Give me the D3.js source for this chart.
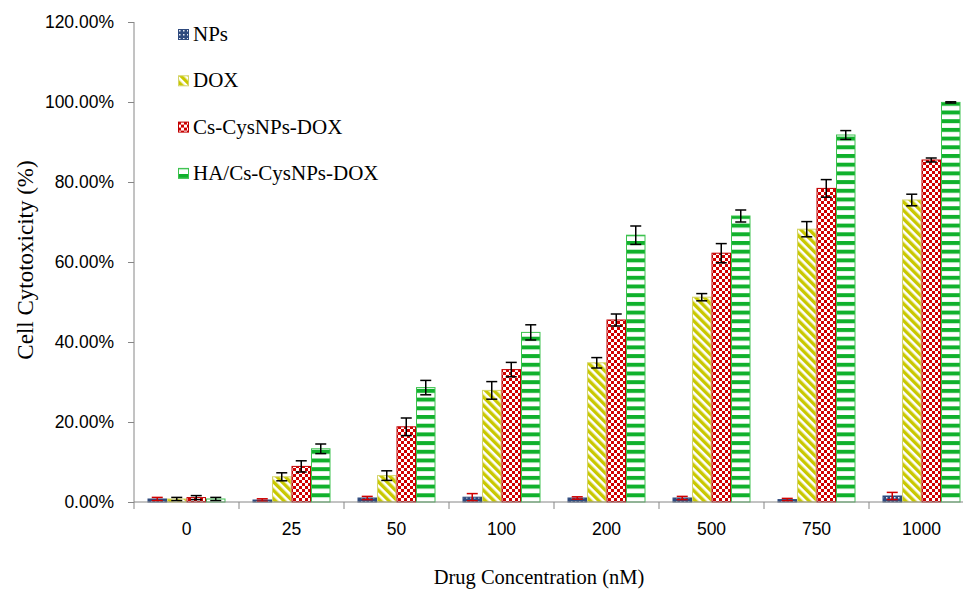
<!DOCTYPE html>
<html>
<head>
<meta charset="utf-8">
<script src="https://cdn.jsdelivr.net/npm/d3@7"></script>
<style>
  body { margin: 0; background: #fff; }
  svg { display: block; }
</style>
</head>
<body>
<div id="chart"></div>
<script>
// data (percent)
var categories = ["0", "25", "50", "100", "200", "500", "750", "1000"];
var seriesNames = ["NPs", "DOX", "Cs-CysNPs-DOX", "HA/Cs-CysNPs-DOX"];
var npsValues = [0.75, 0.5, 1.0, 1.2, 1.0, 1.0, 0.6, 1.5];
var npsErrors = [0.4, 0.3, 0.4, 0.9, 0.3, 0.4, 0.3, 0.9];
var doxValues = [0.75, 6.3, 6.6, 27.9, 34.8, 51.2, 68.2, 75.5];
var doxErrors = [0.4, 1.0, 1.2, 2.2, 1.3, 0.9, 1.9, 1.45];
var csValues = [1.1, 8.9, 18.8, 33.1, 45.5, 62.2, 78.4, 85.5];
var csErrors = [0.5, 1.4, 2.2, 1.8, 1.5, 2.4, 2.2, 0.5];
var haValues = [0.75, 13.3, 28.6, 42.4, 66.7, 71.5, 91.75, 99.9];
var haErrors = [0.4, 1.2, 1.8, 1.9, 2.3, 1.5, 1.1, 0.15];
var yTicks = [0, 20, 40, 60, 80, 100, 120];

var width = 963, height = 589;
var plotLeft = 134, plotTop = 22, plotBottom = 502, groupW = 105;

var svg = d3.select("#chart").append("svg")
  .attr("width", width).attr("height", height);

// fill patterns, like the excel ones
var defs = svg.append("defs");

var pNps = defs.append("pattern").attr("id", "pNps")
  .attr("patternUnits", "userSpaceOnUse").attr("width", 4).attr("height", 4);
pNps.append("rect").attr("width", 4).attr("height", 4).attr("fill", "#2f4a7e");
pNps.append("rect").attr("x", 1).attr("y", 1).attr("width", 1.5).attr("height", 1.5).attr("fill", "#e8ecf4");

var pDox = defs.append("pattern").attr("id", "pDox")
  .attr("patternUnits", "userSpaceOnUse").attr("width", 6).attr("height", 6)
  .attr("patternTransform", "rotate(-45)");
pDox.append("rect").attr("width", 6).attr("height", 6).attr("fill", "#fff");
pDox.append("rect").attr("width", 3.4).attr("height", 6).attr("fill", "#c9c800");

var pCs = defs.append("pattern").attr("id", "pCs")
  .attr("patternUnits", "userSpaceOnUse").attr("width", 6).attr("height", 6);
pCs.append("rect").attr("width", 6).attr("height", 6).attr("fill", "#fff");
pCs.append("rect").attr("width", 3).attr("height", 3).attr("fill", "#d00000");
pCs.append("rect").attr("x", 3).attr("y", 3).attr("width", 3).attr("height", 3).attr("fill", "#d00000");

var pHa = defs.append("pattern").attr("id", "pHa")
  .attr("patternUnits", "userSpaceOnUse").attr("width", 8).attr("height", 8.7)
  .attr("y", plotBottom);
pHa.append("rect").attr("width", 8).attr("height", 8.7).attr("fill", "#fff");
pHa.append("rect").attr("y", 0).attr("width", 8).attr("height", 4).attr("fill", "#10b12c");

var fills = ["url(#pNps)", "url(#pDox)", "url(#pCs)", "url(#pHa)"];
var strokes = ["#2f4a7e", "#d4d46a", "#c00000", "#3cc24e"];
var errColors = ["#d00000", "#000", "#000", "#000"];

var values = [npsValues, doxValues, csValues, haValues];
var errors = [npsErrors, doxErrors, csErrors, haErrors];

var x0 = d3.scaleBand().domain(categories)
  .range([plotLeft, plotLeft + groupW * categories.length]).paddingInner(0).paddingOuter(0);
var x1 = d3.scaleBand().domain(seriesNames).range([13.5, 91.5]).padding(0);
var y = d3.scaleLinear().domain([0, 120]).range([plotBottom, plotTop]);

// bars
var groups = svg.selectAll("g.grp").data(categories).enter().append("g")
  .attr("class", "grp")
  .attr("transform", function (d) { return "translate(" + x0(d) + ",0)"; });

seriesNames.forEach(function (s, si) {
  groups.append("rect")
    .attr("x", x1(s) + 0.5)
    .attr("width", x1.bandwidth() - 1)
    .attr("y", function (d, i) { return y(values[si][i]); })
    .attr("height", function (d, i) { return plotBottom - y(values[si][i]); })
    .attr("fill", fills[si])
    .attr("stroke", strokes[si])
    .attr("stroke-width", 1);
});

// error bars
seriesNames.forEach(function (s, si) {
  var cx = x1(s) + x1.bandwidth() / 2;
  var eg = groups.append("g").attr("stroke", errColors[si]).attr("stroke-width", 1.5);
  eg.append("line")
    .attr("x1", cx).attr("x2", cx)
    .attr("y1", function (d, i) { return y(values[si][i] + errors[si][i]); })
    .attr("y2", function (d, i) { return y(Math.max(0, values[si][i] - errors[si][i])); });
  [1, -1].forEach(function (sign) {
    eg.append("line")
      .attr("x1", cx - 5.5).attr("x2", cx + 5.5)
      .attr("y1", function (d, i) { return y(values[si][i] + sign * errors[si][i]); })
      .attr("y2", function (d, i) { return y(values[si][i] + sign * errors[si][i]); });
  });
});

// y axis
var yAxis = d3.axisLeft(y).tickValues(yTicks).tickSize(6).tickPadding(14)
  .tickFormat(function (d) { return d.toFixed(2) + "%"; });
var gy = svg.append("g").attr("transform", "translate(" + plotLeft + ",0)").call(yAxis);
gy.select(".domain").attr("stroke", "#868686").attr("d", "M0," + plotTop + "V" + plotBottom);
gy.selectAll(".tick line").attr("stroke", "#868686");
gy.selectAll("text").attr("font-family", "'Liberation Sans', Arial, sans-serif")
  .attr("font-size", 17.5).attr("fill", "#000");

// x axis
var xAxis = d3.axisBottom(x0).tickSize(0).tickPadding(21);
var gx = svg.append("g").attr("transform", "translate(0," + plotBottom + ")").call(xAxis);
gx.select(".domain").attr("stroke", "#868686")
  .attr("d", "M" + plotLeft + ",0H" + (plotLeft + groupW * categories.length));
gx.selectAll("text").attr("font-family", "'Liberation Sans', Arial, sans-serif")
  .attr("font-size", 17.5).attr("fill", "#000");
gx.selectAll("line.bound").data(d3.range(categories.length + 1)).enter().append("line")
  .attr("class", "bound")
  .attr("x1", function (i) { return plotLeft + i * groupW; })
  .attr("x2", function (i) { return plotLeft + i * groupW; })
  .attr("y1", 0).attr("y2", 7)
  .attr("stroke", "#868686");

// axis titles
svg.append("text")
  .attr("transform", "translate(33,260) rotate(-90)")
  .attr("text-anchor", "middle")
  .attr("font-family", "'Liberation Serif', 'Times New Roman', serif")
  .attr("font-size", 23)
  .text("Cell Cytotoxicity (%)");

svg.append("text")
  .attr("x", 539).attr("y", 584)
  .attr("text-anchor", "middle")
  .attr("font-family", "'Liberation Serif', 'Times New Roman', serif")
  .attr("font-size", 20.5)
  .text("Drug Concentration (nM)");

// legend
var legend = svg.append("g").attr("transform", "translate(178,29)");
var li = legend.selectAll("g").data(seriesNames).enter().append("g")
  .attr("transform", function (d, i) { return "translate(0," + (i * 46.3) + ")"; });
li.append("rect").attr("x", 0.5).attr("y", 0.5).attr("width", 10).attr("height", 10)
  .attr("fill", function (d, i) { return fills[i]; })
  .attr("stroke", function (d, i) { return strokes[i]; });
li.append("text").attr("x", 15).attr("y", 12)
  .attr("font-family", "'Liberation Serif', 'Times New Roman', serif")
  .attr("font-size", 21)
  .text(function (d) { return d; });
</script>
</body>
</html>
